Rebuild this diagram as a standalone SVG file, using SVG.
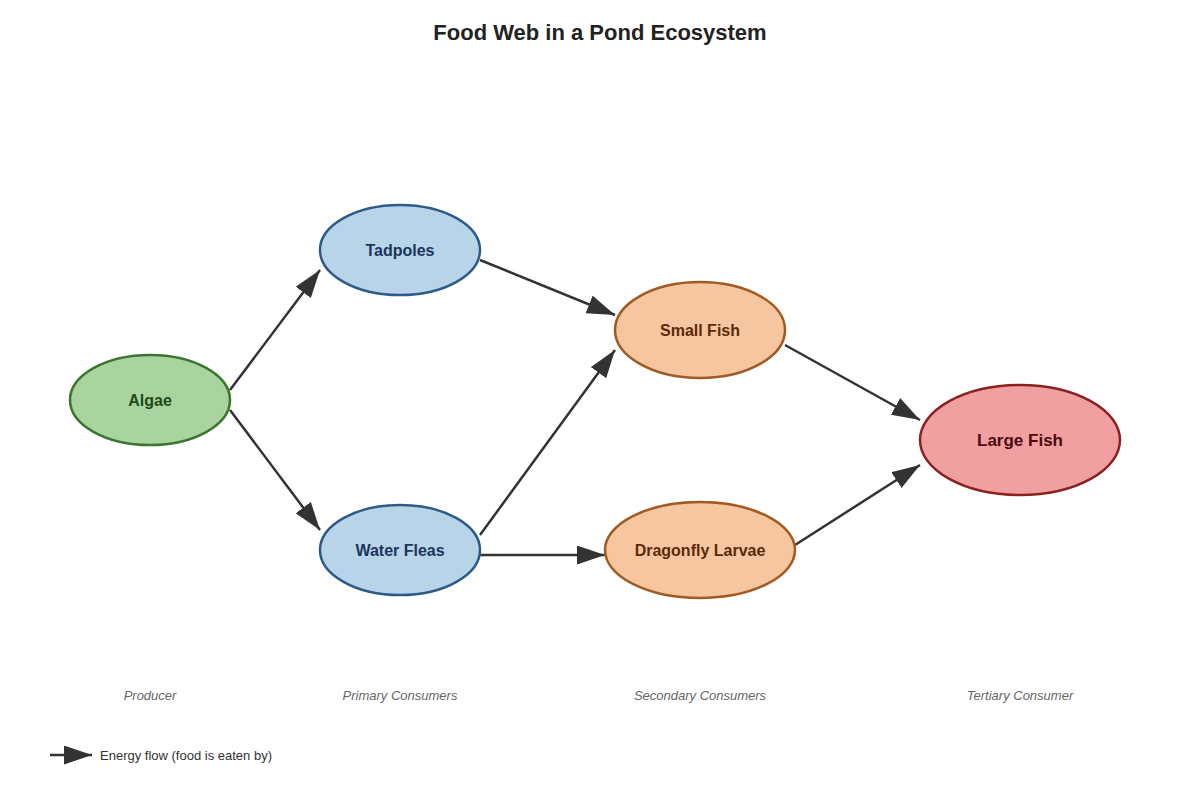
<svg xmlns="http://www.w3.org/2000/svg" width="1200" height="800" viewBox="0 0 1200 800">
<style>
text{font-family:"Liberation Sans",Arial,sans-serif}
.title{font-size:22px;font-weight:bold;fill:#222}
.lbl{font-size:16px;font-weight:bold;text-anchor:middle;dominant-baseline:central}
.layer{font-size:13px;font-style:italic;fill:#666;text-anchor:middle}
.edge{stroke:#333;stroke-width:2.5;fill:none;marker-end:url(#arr)}
.prod ellipse{fill:#a9d4a0;stroke:#3b7631;stroke-width:2.5}
.prod text{fill:#1d4a16}
.prim ellipse{fill:#b8d4e9;stroke:#2e5b86;stroke-width:2.5}
.prim text{fill:#1b365a}
.sec ellipse{fill:#f6c6a0;stroke:#a05a22;stroke-width:2.5}
.sec text{fill:#5a2a08}
.ter ellipse{fill:#f0a0a0;stroke:#8b2222;stroke-width:2.5}
.ter text{fill:#4a0a0e}
</style>
<defs>
<marker id="arr" markerUnits="userSpaceOnUse" markerWidth="30" markerHeight="20" refX="28" refY="9.5" orient="auto">
<path d="M0,0 L28,9.5 L0,19 z" fill="#333"/>
</marker>
</defs>
<text class="title" x="600" y="40" text-anchor="middle">Food Web in a Pond Ecosystem</text>
<g id="connectors">
<line class="edge" x1="230" y1="390" x2="320" y2="270"/>
<line class="edge" x1="230" y1="410" x2="320" y2="530"/>
<line class="edge" x1="480" y1="260" x2="615" y2="315"/>
<line class="edge" x1="480" y1="535" x2="615" y2="350"/>
<line class="edge" x1="480" y1="555" x2="605" y2="555"/>
<line class="edge" x1="785" y1="345" x2="920" y2="420"/>
<line class="edge" x1="795" y1="545" x2="920" y2="465"/>
</g>
<g id="algae" class="prod"><ellipse cx="150" cy="400" rx="80" ry="45"/><text class="lbl" x="150" y="400">Algae</text></g>
<g id="tadpoles" class="prim"><ellipse cx="400" cy="250" rx="80" ry="45"/><text class="lbl" x="400" y="250">Tadpoles</text></g>
<g id="water-fleas" class="prim"><ellipse cx="400" cy="550" rx="80" ry="45"/><text class="lbl" x="400" y="550">Water Fleas</text></g>
<g id="small-fish" class="sec"><ellipse cx="700" cy="330" rx="85" ry="48"/><text class="lbl" x="700" y="330">Small Fish</text></g>
<g id="dragonfly-larvae" class="sec"><ellipse cx="700" cy="550" rx="95" ry="48"/><text class="lbl" x="700" y="550">Dragonfly Larvae</text></g>
<g id="large-fish" class="ter"><ellipse cx="1020" cy="440" rx="100" ry="55"/><text class="lbl" x="1020" y="440" style="font-size:17px">Large Fish</text></g>
<g id="layers">
<text class="layer" x="150" y="700">Producer</text>
<text class="layer" x="400" y="700">Primary Consumers</text>
<text class="layer" x="700" y="700">Secondary Consumers</text>
<text class="layer" x="1020" y="700">Tertiary Consumer</text>
</g>
<g id="legend">
<line class="edge" x1="50" y1="755" x2="92" y2="755"/>
<text x="100" y="760" style="font-size:13px;fill:#333">Energy flow (food is eaten by)</text>
</g>
</svg>
